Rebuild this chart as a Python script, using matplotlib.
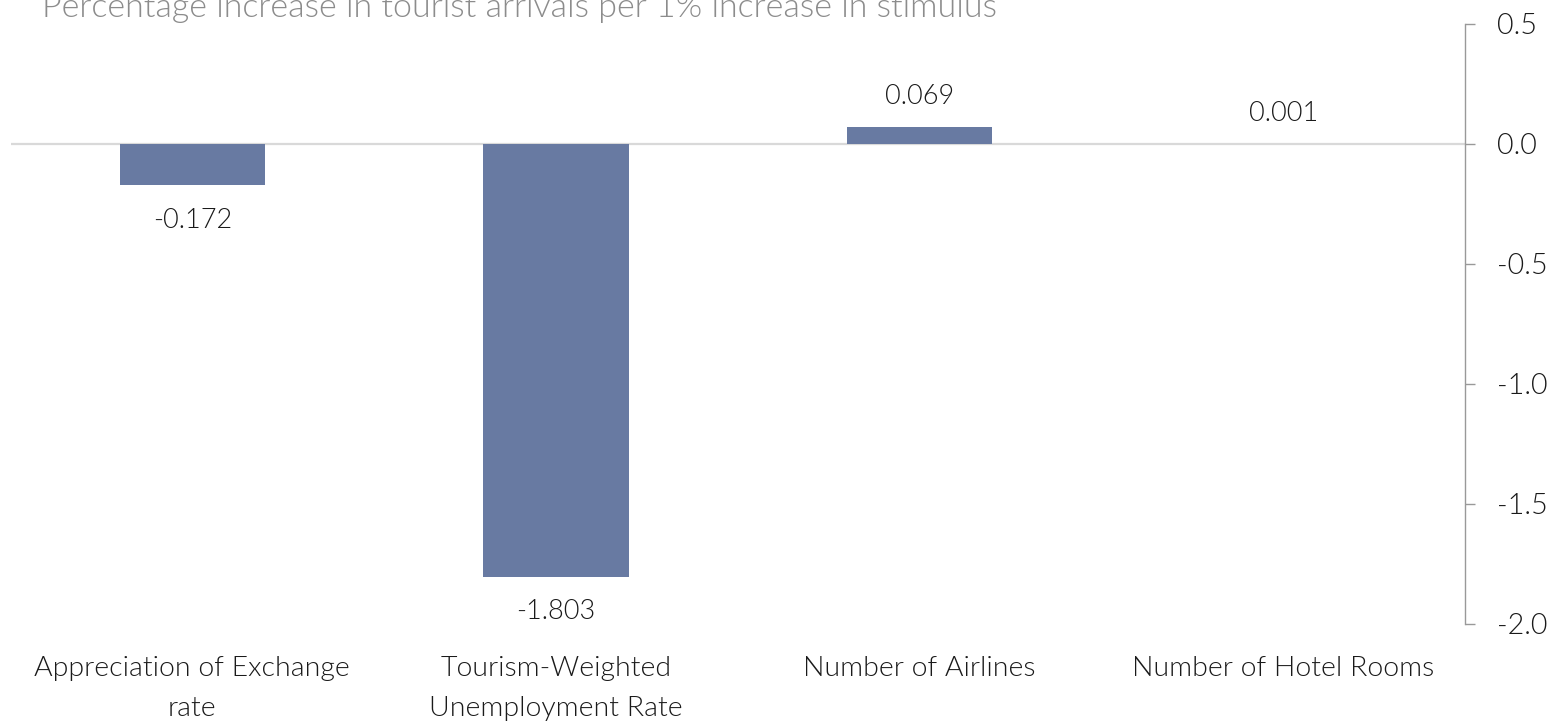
import math
import matplotlib
matplotlib.use("Agg")
import matplotlib.pyplot as plt
from matplotlib import font_manager
from matplotlib.font_manager import FontProperties
from matplotlib.textpath import TextPath

# Elasticities of tourist arrivals
categories = ["Appreciation of Exchange\nrate", "Tourism-Weighted\nUnemployment Rate",
              "Number of Airlines", "Number of Hotel Rooms"]
values = [-0.172, -1.803, 0.069, 0.001]
value_labels = ["-0.172", "-1.803", "0.069", "0.001"]
y_ticks = [0.5, 0.0, -0.5, -1.0, -1.5, -2.0]
title = "Percentage increase in tourist arrivals per 1% increase in stimulus"


def pick_font():
    """Prefer a light sans face; fall back to plain DejaVu Sans."""
    files = [f.fname for f in font_manager.fontManager.ttflist]
    prefs = ["Lato-Light.", "OpenSans-Light.", "Roboto-Light.", "Lato-Regular.", "Roboto-Regular."]
    for p in prefs:
        for f in files:
            if p in f:
                return FontProperties(fname=f)
    return FontProperties(family="DejaVu Sans")


base = pick_font()


def sized(text, width_px, cap_px, width_weight=0.5):
    """Font size balancing a target text width and cap height (pixels at dpi 100)."""
    fp = base.copy()
    fp.set_size(20)
    w = TextPath((0, 0), text, prop=fp).get_extents().width * 100 / 72
    h = TextPath((0, 0), "H", prop=fp).get_extents().height * 100 / 72
    k = (width_px / w) ** width_weight * (cap_px / h) ** (1 - width_weight)
    fp.set_size(20 * k)
    return fp


label_fp = sized("Number of Airlines", 229, 20)
value_fp = sized("-0.172", 66, 22)
tick_fp = sized("-2.0", 44, 22)
title_fp = sized(title, 966, 22, width_weight=0.85)

BAR = "#687aa2"
W, H = 1555, 728
fig = plt.figure(figsize=(W / 100, H / 100), dpi=100)
ax = fig.add_axes([10.5 / W, 104 / H, (1465 - 10.5) / W, 600 / H])

x = list(range(len(categories)))
ax.bar(x, values, width=0.4, color=BAR, zorder=3)
ax.axhline(0, color="#d9d9d9", lw=1.6, zorder=2)

for xi, v, lab in zip(x, values, value_labels):
    off = 22 if v >= 0 else -25
    ax.annotate(lab, (xi, v), xytext=(0, off), textcoords="offset points",
                ha="center", va="center", fontproperties=value_fp, color="#1a1a1a")

ax.set_xlim(-0.5, len(categories) - 0.5)
ax.set_ylim(-2.0, 0.5)
ax.set_yticks(y_ticks)
ax.set_yticklabels([f"{t:.1f}" for t in y_ticks], fontproperties=tick_fp, color="#1a1a1a")
ax.yaxis.tick_right()
ax.tick_params(axis="y", direction="out", length=7.2, width=1, color="#999999", pad=16)
ax.set_xticks(x)
ax.set_xticklabels(categories, fontproperties=label_fp, color="#1a1a1a", linespacing=1.75)
ax.tick_params(axis="x", length=0, pad=23)

for side in ["top", "left", "bottom"]:
    ax.spines[side].set_visible(False)
ax.spines["right"].set_color("#999999")
ax.spines["right"].set_linewidth(1)

fig.text(42 / W, 1 - 17 / H, title, fontproperties=title_fp, color="#8c8c8c",
         ha="left", va="baseline")

fig.savefig("out.png", dpi=100)
